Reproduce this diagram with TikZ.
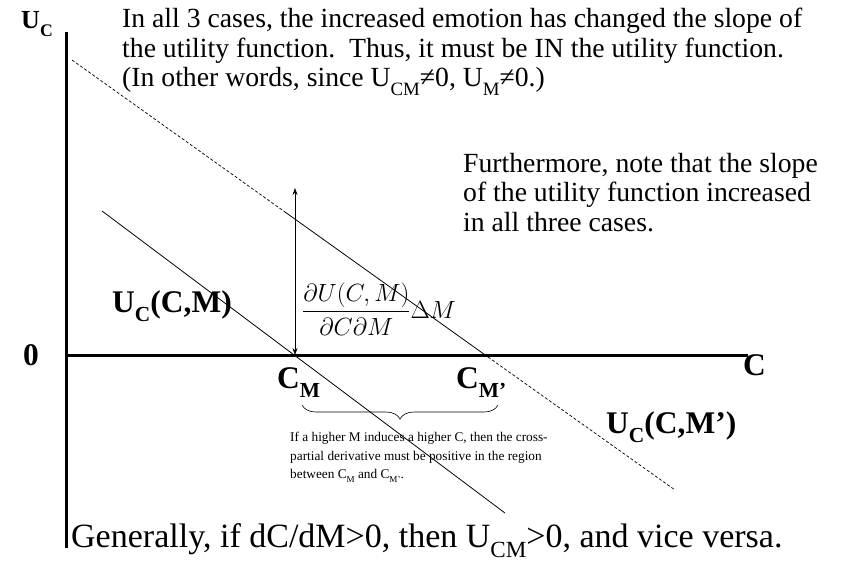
\documentclass[tikz,border=0pt]{standalone}
\usepackage{fontspec}
\setmainfont{Liberation Serif}
\usepackage{amsmath}
\usetikzlibrary{arrows.meta,decorations.pathreplacing}
\newcommand{\lo}[1]{\raisebox{-0.3em}{\scalebox{0.68}{#1}}}

\begin{document}
\begin{tikzpicture}[x=1pt, y=-1pt,
    axis/.style={line width=3pt},
    curve/.style={line width=0.8pt},
    shifted/.style={line width=0.7pt, dash pattern=on 3pt off 2pt},
    note/.style={anchor=north west, inner sep=0pt, align=left,
                 font=\fontsize{27.7}{29.5}\selectfont},
    small/.style={anchor=north west, inner sep=0pt, align=left,
                  font=\fontsize{13.3}{18.5}\selectfont},
    tag/.style={inner sep=0pt, font=\fontsize{31.5}{31.5}\selectfont\bfseries}
  ]
  \useasboundingbox (0,0) rectangle (848,562);

  % axes
  \coordinate (O) at (66,355);
  \coordinate (ytop) at (66,32);
  \coordinate (ybot) at (66,548);
  \coordinate (xend) at (748,355);
  \draw[axis] (ytop) -- (ybot);
  \draw[axis] (O) -- (xend);

  % U_C(C,M) and U_C(C,M')
  \coordinate (s1) at (102,211);
  \coordinate (s2) at (505,513);
  \draw[curve] (s1) -- (s2);
  \coordinate (d1) at (72,60);
  \coordinate (d2) at (285,212);
  \coordinate (d3) at (488,357);
  \coordinate (d4) at (675,490);
  \draw[shifted] (d1) -- (d2);
  \draw[curve] (d2) -- (d3);
  \draw[shifted] (d3) -- (d4);

  % shift of the curve
  \coordinate (cmx) at (295,355);
  \coordinate (shtop) at (295,188);
  \draw[line width=0.6pt, {Stealth[length=7pt,width=5pt]}-{Stealth[length=7pt,width=5pt]}] (shtop) -- (cmx);
  \node[inner sep=0pt, anchor=west, font=\fontsize{23}{23}\selectfont] (frac) at (302,309)
    {$\dfrac{\partial U(C,M)}{\partial C\partial M}\Delta M$};

  % labels
  \node[tag, font=\fontsize{26}{26}\selectfont\bfseries] (uc) at (37,24) {U\lo{C}};
  \node[tag] (zero) at (31,355) {0};
  \node[tag, anchor=base west] (cax) at (743,375) {C};
  \node[tag, anchor=base west] (ucm) at (112,312) {U\lo{C}(C,M)};
  \node[tag, anchor=base west] (ucmp) at (606,433) {U\lo{C}(C,M’)};
  \node[tag, anchor=base west] (cm) at (277,388) {C\lo{M}};
  \node[tag, anchor=base west] (cmp) at (456,388) {C\lo{M’}};

  \coordinate (bl) at (302,405);
  \coordinate (br) at (498,405);
  \draw[line width=0.6pt, decorate, decoration={brace, mirror, amplitude=14pt}] (bl) -- (br);

  % notes
  \node[note] (top) at (122,8) {In all 3 cases, the increased emotion has changed the slope of\\
    the utility function.\ \ Thus, it must be IN the utility function.\\
    (In other words, since U\lo{CM}≠0, U\lo{M}≠0.)};
  \node[note] (more) at (463,153) {Furthermore, note that the slope\\
    of the utility function increased\\
    in all three cases.};
  \node[small] (region) at (290,432) {If a higher M induces a higher C, then the cross-\\
    partial derivative must be positive in the region\\
    between C\lo{M} and C\lo{M’}.};
  \node[note, anchor=base west, font=\fontsize{34}{34}\selectfont] (gen) at (71,547)
    {Generally, if dC/dM>0, then U\lo{CM}>0, and vice versa.};
\end{tikzpicture}
\end{document}
